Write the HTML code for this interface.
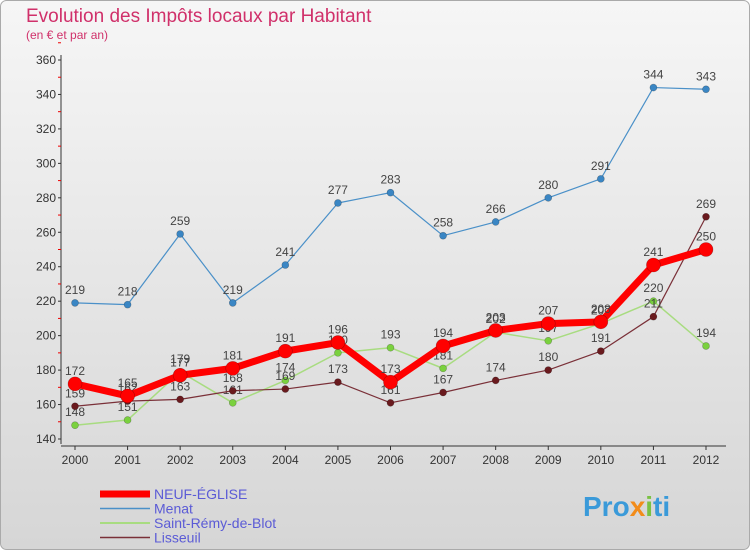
<!DOCTYPE html>
<html><head><meta charset="utf-8"><style>
body{margin:0;width:750px;height:550px;overflow:hidden;font-family:"Liberation Sans",sans-serif}
</style></head><body>
<svg id="c" width="750" height="550" xmlns="http://www.w3.org/2000/svg">
<defs><linearGradient id="bg" x1="0" y1="0" x2="0" y2="1"><stop offset="0" stop-color="#f6f6f6"/><stop offset="1" stop-color="#d6d6d6"/></linearGradient></defs>
<rect x="0.5" y="0.5" width="749" height="549" rx="6" fill="url(#bg)" stroke="#aaa"/>
<text x="26" y="22" font-size="19" fill="#d0306a">Evolution des Impôts locaux par Habitant</text>
<text x="26" y="39" font-size="12" fill="#d0306a">(en € et par an)</text>
<g id="axes"></g><g id="series"></g>
<text x="583" y="516" font-size="28" font-weight="bold" fill="#3a9ad9">Pro<tspan fill="#f28c1a">x</tspan><tspan fill="#7ac143">i</tspan>ti</text>
</svg>
<script>
const years=[2000,2001,2002,2003,2004,2005,2006,2007,2008,2009,2010,2011,2012];
const yTicks=[140,160,180,200,220,240,260,280,300,320,340,360];
const neuf=[172,165,177,181,191,196,173,194,203,207,208,241,250];
const menat=[219,218,259,219,241,277,283,258,266,280,291,344,343];
const remy=[148,151,179,161,174,190,193,181,202,197,207,220,194];
const lisseuil=[159,162,163,168,169,173,161,167,174,180,191,211,269];
const NS="http://www.w3.org/2000/svg";
const X0=75,X1=706,Y0=439,Y1=60;
const xs=i=>X0+(X1-X0)*i/(years.length-1);
const ys=v=>Y0-(v-140)/(360-140)*(Y0-Y1);
function mk(tag,a,p){const e=document.createElementNS(NS,tag);for(const k in a)e.setAttribute(k,a[k]);p.appendChild(e);return e;}
const ax=document.getElementById('axes');
const yl=mk('line',{x1:61,y1:Y1-5,x2:61,y2:Y0+5,stroke:'#333'},ax);


const xl=mk('line',{x1:61,y1:446,x2:726,y2:446,stroke:'#333'},ax);


yTicks.forEach(v=>{
 mk('line',{x1:58,x2:61,y1:ys(v),y2:ys(v),stroke:'#333'},ax);
 mk('line',{x1:58,x2:61,y1:ys(v+10),y2:ys(v+10),stroke:'#e00'},ax);
 const t=mk('text',{x:56,y:ys(v)+4,'font-size':12,'text-anchor':'end',fill:'#333'},ax);t.textContent=v;
 
 
});
years.forEach((y,i)=>{
 mk('line',{x1:xs(i),x2:xs(i),y1:446,y2:450,stroke:'#333'},ax);
 const t=mk('text',{x:xs(i),y:464,'font-size':12,'text-anchor':'middle',fill:'#333'},ax);t.textContent=y;
 
 
});
const sg=document.getElementById('series');
const defs=[
 {d:menat,c:'#4a90c8',w:1.2,r:3.5,fc:'#3a86c4',n:'menat'},
 {d:remy,c:'#a8dc80',w:1.5,r:3.5,fc:'#7ad13e',n:'saint-remy'},
 {d:lisseuil,c:'#7a3038',w:1.2,r:3.5,fc:'#6a1a1e',n:'lisseuil'},
 {d:neuf,c:'#ff0000',w:7,r:7,fc:'#ff0000',n:'neuf-eglise'}];
const order=[3,0,1,2];
defs.forEach(s=>{
 const g=mk('g',{},sg);
 
 
 mk('polyline',{points:s.d.map((v,i)=>xs(i)+','+ys(v)).join(' '),fill:'none',stroke:s.c,'stroke-width':s.w,'stroke-linejoin':'round'},g);
 s.d.forEach((v,i)=>{
  const p=mk('circle',{cx:xs(i),cy:ys(v),r:s.r,fill:s.fc,stroke:'rgba(0,0,0,0.3)','stroke-width':0.6},g);
  
  
  const t=mk('text',{x:xs(i),y:ys(v)-9,'font-size':12,'text-anchor':'middle',fill:'#444'},g);t.textContent=v;
  
  
 });
});
const lg=[['NEUF-ÉGLISE','#ff0000',7],['Menat','#4a90c8',1.5],['Saint-Rémy-de-Blot','#a8dc80',2],['Lisseuil','#7a3038',1.5]];
lg.forEach((l,i)=>{
 const y=494+i*14.5;
 const g=mk('g',{},sg);
 
 
 mk('line',{x1:100,x2:150,y1:y,y2:y,stroke:l[1],'stroke-width':l[2]},g);
 const t=mk('text',{x:154,y:y+5,'font-size':14,fill:'#5b5bd6'},g);t.textContent=l[0];
});
</script>
</body></html>
